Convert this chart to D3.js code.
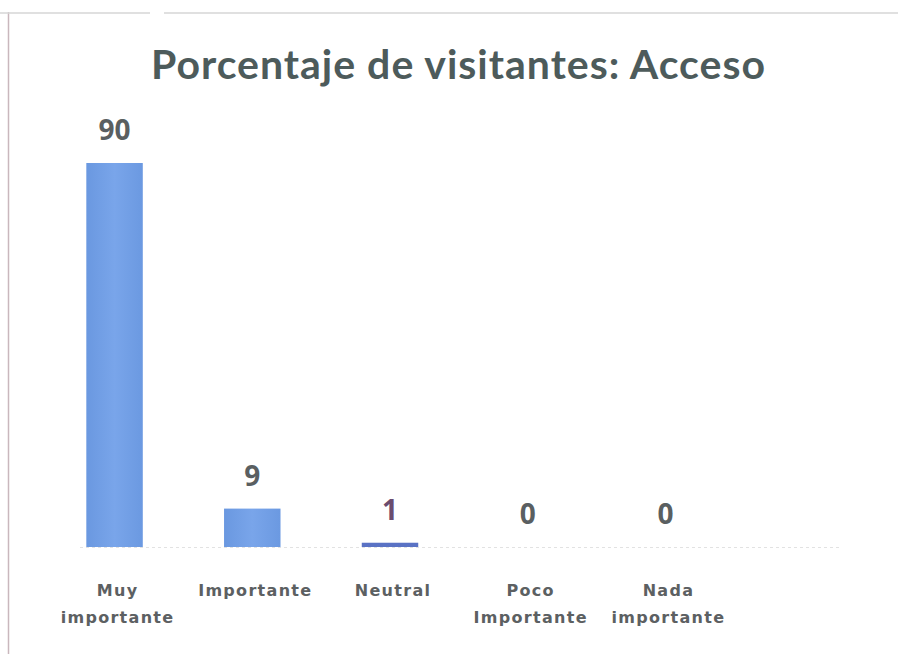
<!DOCTYPE html>
<html>
<head>
<meta charset="utf-8">
<script src="https://d3js.org/d3.v7.min.js"></script>
<style>
    body { margin: 0; background: #fff; }
    .title { font: 700 41px Lato, sans-serif; fill: #4d5b5b; }
    .value { font: 700 28px "Open Sans", sans-serif; fill: #5a5f61; }
    .cat { font: 700 16px "DejaVu Sans", sans-serif; fill: #5c6062; letter-spacing: 1.3px; }
</style>
</head>
<body>
<svg id="chart" width="898" height="654"></svg>
<script>
    const categories = [["Muy", "importante"], ["Importante"], ["Neutral"], ["Poco", "Importante"], ["Nada", "importante"]];
    const values = [90, 9, 1, 0, 0];
    const labelColors = ["#5a5f61", "#5a5f61", "#6b4c6e", "#5a5f61", "#5a5f61"];
    const titleText = "Porcentaje de visitantes: Acceso";

    const margin = { left: 45, top: 163, bottom: 107 };
    const plotW = 690, baseY = 547;

    const svg = d3.select("#chart");

    // frame lines
    svg.append("line").attr("x1", 8.5).attr("x2", 8.5).attr("y1", 12).attr("y2", 654)
        .attr("stroke", "#c9b7bd").attr("stroke-width", 1.5);
    svg.append("line").attr("x1", 0).attr("x2", 150).attr("y1", 13).attr("y2", 13)
        .attr("stroke", "#d6d6d6").attr("stroke-width", 1.5);
    svg.append("line").attr("x1", 164).attr("x2", 898).attr("y1", 13).attr("y2", 13)
        .attr("stroke", "#d6d6d6").attr("stroke-width", 1.5);

    svg.append("text").attr("class", "title")
        .attr("x", 458).attr("y", 79).attr("text-anchor", "middle")
        .attr("textLength", 614).attr("lengthAdjust", "spacing")
        .text(titleText);

    const x = d3.scaleBand()
        .domain(d3.range(categories.length))
        .range([margin.left, margin.left + plotW])
        .paddingInner(0.59).paddingOuter(0.3);
    const y = d3.scaleLinear().domain([0, 90]).range([baseY, margin.top]);

    // baseline
    svg.append("line").attr("x1", 80).attr("x2", 840).attr("y1", baseY + 0.5).attr("y2", baseY + 0.5)
        .attr("stroke", "#e2e2e2").attr("stroke-dasharray", "3,3");

    const defs = svg.append("defs");
    const grad = defs.append("linearGradient").attr("id", "barGrad");
    grad.append("stop").attr("offset", "0%").attr("stop-color", "#6a98e0");
    grad.append("stop").attr("offset", "50%").attr("stop-color", "#79a5ea");
    grad.append("stop").attr("offset", "100%").attr("stop-color", "#6b99e1");

    svg.selectAll("rect.bar").data(values).join("rect")
        .attr("class", "bar")
        .attr("x", (d, i) => x(i))
        .attr("width", x.bandwidth())
        .attr("y", d => y(d))
        .attr("height", d => baseY - y(d))
        .attr("fill", (d, i) => i === 2 ? "#5a72c4" : "url(#barGrad)");

    svg.selectAll("text.value").data(values).join("text")
        .attr("class", "value")
        .attr("x", (d, i) => x(i) + x.bandwidth() / 2)
        .attr("y", d => y(d) - 23)
        .attr("text-anchor", "middle")
        .style("fill", (d, i) => labelColors[i])
        .text(d => d);

    const cats = svg.selectAll("text.cat").data(categories).join("text")
        .attr("class", "cat")
        .attr("text-anchor", "middle")
        .attr("x", (d, i) => x(i) + x.bandwidth() / 2 + 3)
        .attr("y", 596);
    cats.selectAll("tspan").data(d => d).join("tspan")
        .attr("x", function () { return d3.select(this.parentNode).attr("x"); })
        .attr("dy", (d, i) => i === 0 ? 0 : 27)
        .text(d => d);
</script>
</body>
</html>
